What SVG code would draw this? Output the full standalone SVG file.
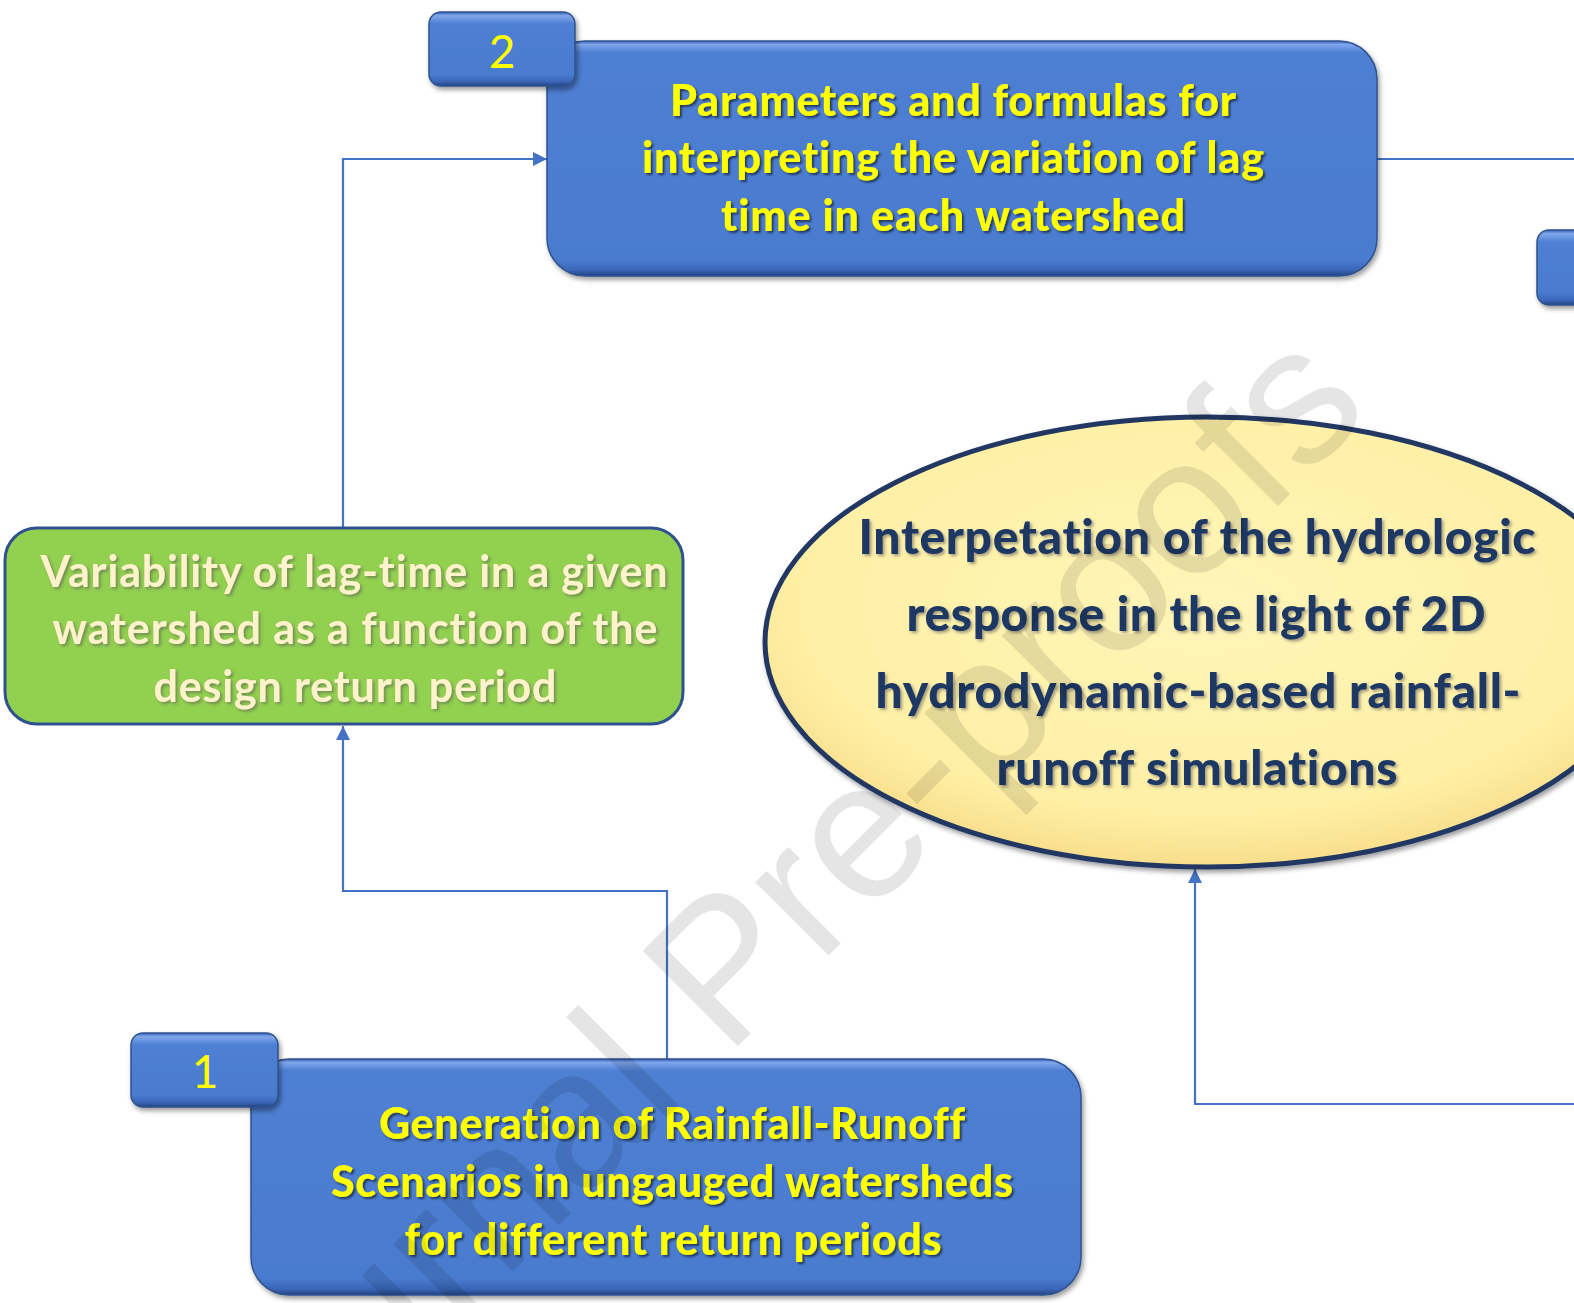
<svg xmlns="http://www.w3.org/2000/svg" width="1574" height="1303" viewBox="0 0 1574 1303">
<defs>
<linearGradient id="blueBevel" x1="0" y1="0" x2="0" y2="1">
<stop offset="0" stop-color="#3560B0"/>
<stop offset="0.015" stop-color="#7FA6EC"/>
<stop offset="0.05" stop-color="#4E7FD3"/>
<stop offset="0.93" stop-color="#4A7BCF"/>
<stop offset="0.975" stop-color="#3A66B8"/>
<stop offset="1" stop-color="#22437F"/>
</linearGradient>
<linearGradient id="badgeBevel" x1="0" y1="0" x2="0" y2="1">
<stop offset="0" stop-color="#3560B0"/>
<stop offset="0.05" stop-color="#80A7EC"/>
<stop offset="0.16" stop-color="#4E7FD3"/>
<stop offset="0.84" stop-color="#4A7BCF"/>
<stop offset="0.94" stop-color="#3A66B8"/>
<stop offset="1" stop-color="#22437F"/>
</linearGradient>
<radialGradient id="yellowFill" cx="0.5" cy="0.42" r="0.62">
<stop offset="0" stop-color="#FFF5B8"/>
<stop offset="0.75" stop-color="#FFF0A6"/>
<stop offset="0.93" stop-color="#F8DE8C"/>
<stop offset="1" stop-color="#E9C870"/>
</radialGradient>
<filter id="shapeShadow" x="-10%" y="-10%" width="120%" height="130%">
<feDropShadow dx="2" dy="3" stdDeviation="2.5" flood-color="#000" flood-opacity="0.4"/>
</filter>
<filter id="textShadow" x="-5%" y="-20%" width="110%" height="150%">
<feDropShadow dx="2" dy="2" stdDeviation="1.2" flood-color="#000" flood-opacity="0.55"/>
</filter>
<filter id="textShadowLight" x="-5%" y="-20%" width="110%" height="150%">
<feDropShadow dx="2" dy="2" stdDeviation="1.5" flood-color="#555" flood-opacity="0.55"/>
</filter>
<marker id="arrow" markerUnits="userSpaceOnUse" markerWidth="16" markerHeight="14" refX="14" refY="7" orient="auto">
<path d="M0,0 L14,7 L0,14 z" fill="#4472C4"/>
</marker>
<style>
.conn{fill:none;stroke:#4472C4;stroke-width:2.2}
.box{fill:url(#blueBevel);stroke:#2F528F;stroke-width:1.5;filter:url(#shapeShadow)}
.badge{fill:url(#badgeBevel);stroke:#2F528F;stroke-width:1.5;filter:url(#shapeShadow)}
text{font-variant-ligatures:none}
.ytxt{font-family:Lato,"Liberation Sans",sans-serif;font-weight:900;font-size:43px;fill:#FFFF00;text-anchor:middle;filter:url(#textShadow)}
.num{font-family:Lato,"Liberation Sans",sans-serif;font-size:46px;fill:#FFFF00;text-anchor:middle}
.gtxt{font-family:Lato,"Liberation Sans",sans-serif;font-weight:bold;font-size:43px;fill:#FFF2CC;text-anchor:middle;filter:url(#textShadowLight)}
.etxt{font-family:Lato,"Liberation Sans",sans-serif;font-weight:900;font-size:48px;fill:#1F3864;text-anchor:middle;filter:url(#textShadowLight)}
.wm{font-family:"Liberation Sans",Arial,sans-serif;font-size:196px;fill:#000;fill-opacity:0.1}
</style>
</defs>
<rect x="0" y="0" width="1574" height="1303" fill="#FFFFFF"/>

<g id="connectors">
<polyline class="conn" points="343,528 343,159 547,159" marker-end="url(#arrow)"/>
<polyline class="conn" points="667,1059 667,891 343,891 343,726" marker-end="url(#arrow)"/>
<polyline class="conn" points="1574,1104 1195,1104 1195,869" marker-end="url(#arrow)"/>
<line class="conn" x1="1377" y1="159" x2="1574" y2="159"/>
</g>

<g id="node2">
<rect class="box" x="547" y="41" width="830" height="235" rx="38"/>
<text class="ytxt" x="953" y="116" textLength="566">Parameters and formulas for</text>
<text class="ytxt" x="953" y="173" textLength="622">interpreting the variation of lag</text>
<text class="ytxt" x="953" y="231" textLength="464">time in each watershed</text>
</g>
<g id="badge2">
<rect class="badge" x="429" y="12" width="146" height="74" rx="12"/>
<text class="num" x="502" y="68">2</text>
</g>

<g id="badge3">
<rect class="badge" x="1537" y="230" width="146" height="75" rx="12"/>
</g>

<g id="node-variability">
<rect x="5" y="528" width="678" height="196" rx="32" fill="#92D050" stroke="#2F528F" stroke-width="3"/>
<text class="gtxt" x="354" y="587" textLength="627">Variability of lag-time in a given</text>
<text class="gtxt" x="355" y="644" textLength="605">watershed as a function of the</text>
<text class="gtxt" x="355" y="702" textLength="403">design return period</text>
</g>

<g id="node-interpretation">
<ellipse cx="1207" cy="642" rx="442" ry="225" fill="url(#yellowFill)" stroke="#203864" stroke-width="5" filter="url(#shapeShadow)"/>
<text class="etxt" x="1197" y="554" textLength="677">Interpetation of the hydrologic</text>
<text class="etxt" x="1196" y="631" textLength="579">response in the light of 2D</text>
<text class="etxt" x="1198" y="708" textLength="645">hydrodynamic-based rainfall-</text>
<text class="etxt" x="1197" y="785" textLength="401">runoff simulations</text>
</g>

<g id="node1">
<rect class="box" x="251" y="1059" width="830" height="236" rx="38"/>
<text class="ytxt" x="672" y="1139" textLength="586">Generation of Rainfall-Runoff</text>
<text class="ytxt" x="672" y="1197" textLength="682">Scenarios in ungauged watersheds</text>
<text class="ytxt" x="673" y="1255" textLength="537">for different return periods</text>
</g>
<g id="badge1">
<rect class="badge" x="131" y="1033" width="147" height="74" rx="12"/>
<text class="num" x="205" y="1088">1</text>
</g>

<g id="watermark">
<text class="wm" transform="translate(732,1052) rotate(-45)" x="-705" y="0">Journal Pre-proofs</text>
</g>
</svg>
